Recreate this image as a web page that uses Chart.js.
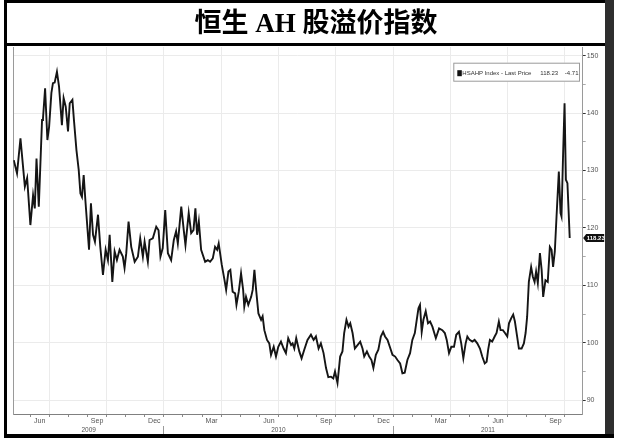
<!DOCTYPE html>
<html><head><meta charset="utf-8">
<script src="https://cdn.jsdelivr.net/npm/chart.js@4"></script>
<style>
html,body{margin:0;padding:0;background:#fff;}
#wrap{position:relative;width:617px;height:441px;overflow:hidden;background:#fff;}
#c{position:absolute;left:0;top:0;}
.bar{position:absolute;background:#000;}
#title{position:absolute;left:7px;top:3px;width:598px;height:40px;line-height:40px;text-align:center;font-family:"Liberation Serif","Noto Sans CJK SC",serif;font-weight:bold;font-size:27px;color:#000;white-space:nowrap;padding-left:20px;box-sizing:border-box;}
</style></head><body>
<div id="wrap">
<canvas id="c" width="617" height="441"></canvas>
<div id="title">恒生 AH 股溢价指数</div>
<div class="bar" style="left:4px;top:0;width:610px;height:3px"></div>
<div class="bar" style="left:4px;top:0;width:3px;height:438px"></div>
<div class="bar" style="left:4px;top:43px;width:610px;height:3px"></div>
<div class="bar" style="left:605px;top:0;width:9px;height:438px;background:#2e2e2e"></div>
<div class="bar" style="left:4px;top:434px;width:610px;height:4px"></div>
</div>
<script>
// time position: months elapsed since 1 Jan 2009
const monthsFromJan2009 = [4.14,4.31,4.49,4.72,4.84,5.01,5.15,5.24,5.33,5.45,5.62,5.67,5.78,5.90,5.99,6.11,6.19,6.28,6.40,6.51,6.66,6.75,6.86,6.98,7.07,7.21,7.29,7.42,7.54,7.63,7.71,7.80,7.90,8.08,8.18,8.29,8.39,8.55,8.67,8.81,8.95,9.07,9.16,9.30,9.42,9.54,9.68,9.85,9.94,10.03,10.15,10.29,10.47,10.64,10.76,10.90,
10.99,11.16,11.25,11.42,11.60,11.72,11.82,11.94,12.07,12.21,12.38,12.52,12.64,12.73,12.91,13.04,13.13,13.30,13.43,13.55,13.65,13.74,13.83,13.95,14.16,14.30,14.42,14.56,14.68,14.79,14.87,15.03,15.17,15.26,15.38,15.48,15.60,15.73,15.80,15.92,16.04,16.15,16.21,16.30,16.42,16.57,16.65,16.74,16.83,16.95,17.09,17.17,17.26,17.40,17.52,17.61,17.75,17.87,17.99,18.13,18.27,18.39,18.51,
18.66,18.74,18.83,18.93,19.09,19.21,19.35,19.52,19.70,19.84,19.96,20.10,20.22,20.36,20.49,20.61,20.75,20.87,20.96,21.09,21.23,21.35,21.44,21.56,21.67,21.76,21.88,22.00,22.14,22.28,22.40,22.49,22.63,22.75,22.87,22.97,23.10,23.23,23.36,23.48,23.58,23.71,23.83,23.97,24.11,24.23,24.37,24.49,24.61,24.75,24.89,25.01,25.14,25.24,25.33,25.41,25.50,25.59,25.71,
25.83,25.94,26.06,26.24,26.41,26.58,26.71,26.81,26.93,27.05,27.19,27.31,27.45,27.57,27.68,27.80,27.89,28.01,28.15,28.27,28.41,28.55,28.67,28.80,28.90,28.98,29.07,29.19,29.32,29.42,29.54,29.63,29.75,29.86,29.98,30.07,30.19,30.29,30.38,30.47,30.59,30.73,30.85,30.94,31.02,31.11,31.23,31.32,31.41,31.49,31.58,31.69,31.78,31.86,31.98,32.10,32.21,32.30,32.38,32.47,32.56,32.68,32.77,32.82,32.90,32.98,33.05,33.13,33.19,33.25];

const hsahpIndex = [131.8,129.5,135.6,127.2,128.7,120.5,125.7,123.4,132.1,123.7,138.8,139.1,144.3,135.3,137.6,143.5,145.2,145.3,147.2,144.6,137.9,142.6,141.1,136.8,141.7,142.3,138.8,133.6,130.1,126.0,125.4,129.2,124.3,116.2,124.3,118.8,117.6,122.3,116.7,111.8,116.2,114.4,118.8,110.6,115.9,114.4,116.2,115.0,113.0,115.6,121.1,116.7,114.1,115.0,118.2,115.0,
117.6,114.1,117.9,118.2,120.2,119.6,115.0,116.5,123.1,115.6,114.4,117.9,119.4,117.3,123.7,119.6,117.0,122.6,119.1,119.6,123.4,118.8,121.1,116.2,114.1,114.4,114.1,114.7,116.7,116.2,117.3,113.6,111.0,109.2,112.4,112.7,108.9,108.6,106.6,108.9,112.1,109.2,106.3,108.0,106.6,108.0,109.2,112.7,109.2,105.1,104.0,104.6,102.2,100.5,99.9,97.9,99.3,97.6,99.3,100.2,99.0,98.2,100.8,
99.6,99.9,99.0,100.8,98.5,97.3,98.8,100.5,101.4,100.5,101.1,99.0,99.9,98.2,95.6,94.0,94.1,93.8,95.0,93.0,97.6,98.5,101.7,104.0,102.8,103.4,101.7,99.0,99.6,100.2,99.0,97.6,98.5,97.6,97.0,95.6,97.9,98.8,101.1,101.9,101.1,100.5,99.3,97.9,97.6,97.0,96.4,94.7,94.8,97.0,98.2,100.5,101.7,104.0,106.0,106.6,101.9,104.0,105.5,
103.4,103.7,102.8,100.8,102.5,102.2,101.7,100.5,98.2,99.3,99.3,101.4,101.9,99.9,97.3,99.9,101.1,100.5,100.2,100.5,99.9,99.0,97.6,96.4,96.7,98.8,100.5,100.2,101.1,101.7,103.7,102.2,102.2,101.7,101.1,103.4,104.3,104.9,103.7,101.7,99.0,99.0,99.9,101.7,104.5,110.6,113.2,111.5,110.6,112.4,110.4,115.6,112.7,108.0,110.9,110.6,116.7,116.2,113.2,115.9,122.0,129.8,122.6,122.0,132.4,141.7,128.4,127.8,123.1,118.23];

const seriesLabel = 'HSAHP Index - Last Price';
const lastPrice = '118.23';
const netChange = '-4.71';

const monthTickValues = [5.5,8.5,11.5,14.5,17.5,20.5,23.5,26.5,29.5,32.5];
const monthTickLabels = ['Jun','Sep','Dec','Mar','Jun','Sep','Dec','Mar','Jun','Sep'];
const monthStarts = [5,6,7,8,9,10,11,12,13,14,15,16,17,18,19,20,21,22,23,24,25,26,27,28,29,30,31,32,33];
const yearTickValues = [8.06,18,28.97];
const yearTickLabels = ['2009','2010','2011'];
const yearBreaks = [12,24];
const yTickValues = [90,95,100,105,110,115,120,125,130,135,140,145,150];

const X_MIN = 4.115, X_MAX = 33.93, Y_MIN = 87.6, Y_MAX = 151.5;
const FONT = "'Liberation Sans', Arial, sans-serif";

const points = monthsFromJan2009.map((m, i) => ({x: m, y: hsahpIndex[i]}));

const overlay = {
  id: 'overlay',
  afterDraw(chart) {
    const ctx = chart.ctx, a = chart.chartArea, ys = chart.scales.y;
    ctx.save();
    const bx = a.right - 129.4, by = a.top + 15.7, bw = 126.7, bh = 19;
    ctx.fillStyle = '#fff';
    ctx.fillRect(bx, by, bw, bh);
    ctx.strokeStyle = '#9a9a9a';
    ctx.lineWidth = 1;
    ctx.strokeRect(bx + 0.5, by + 0.5, bw - 1, bh - 1);
    ctx.fillStyle = '#111';
    ctx.fillRect(bx + 4, by + 7.5, 4.5, 6);
    ctx.fillStyle = '#333';
    ctx.font = '6px ' + FONT;
    ctx.textBaseline = 'middle';
    ctx.textAlign = 'left';
    const ty = by + 10.8;
    ctx.fillText(chart.data.datasets[0].label, bx + 9, ty);
    ctx.fillText(lastPrice, bx + 87, ty);
    ctx.fillText(netChange, bx + 111.5, ty);
    const ds = chart.data.datasets[0].data;
    const py = ys.getPixelForValue(ds[ds.length - 1].y);
    const x0 = a.right + 0.5, x1 = a.right + 21.5;
    ctx.fillStyle = '#111';
    ctx.beginPath();
    ctx.moveTo(x0, py);
    ctx.lineTo(x0 + 3, py - 4);
    ctx.lineTo(x1, py - 4);
    ctx.lineTo(x1, py + 4);
    ctx.lineTo(x0 + 3, py + 4);
    ctx.closePath();
    ctx.fill();
    ctx.fillStyle = '#fff';
    ctx.font = 'bold 6px ' + FONT;
    ctx.fillText(lastPrice, x0 + 3.5, py + 0.5);
    ctx.restore();
  }
};

new Chart(document.getElementById('c'), {
  type: 'line',
  data: {
    datasets: [{
      label: seriesLabel,
      data: points,
      borderColor: '#151515',
      borderWidth: 1.9,
      pointRadius: 0,
      tension: 0,
      fill: false
    }]
  },
  options: {
    responsive: false,
    animation: false,
    devicePixelRatio: 1,
    layout: {padding: {left: 13.3, top: 47, right: 12.3, bottom: 3}},
    plugins: {legend: {display: false}, tooltip: {enabled: false}},
    scales: {
      x: {
        type: 'linear', position: 'bottom', weight: 0, min: X_MIN, max: X_MAX,
        afterBuildTicks: s => { s.ticks = monthStarts.map(v => ({value: v})); },
        afterFit: s => { s.height = 3; },
        ticks: {display: false},
        grid: {
          display: true, drawOnChartArea: true, drawTicks: true, tickLength: 3,
          color: c => (c.tick && c.tick.value % 3 === 0) ? '#ebebeb' : 'rgba(0,0,0,0)',
          tickColor: '#8a8a8a', lineWidth: 1
        },
        border: {display: true, color: '#808080', width: 1}
      },
      xMonths: {
        type: 'linear', position: 'bottom', weight: 1, min: X_MIN, max: X_MAX,
        afterBuildTicks: s => { s.ticks = monthTickValues.map(v => ({value: v})); },
        afterFit: s => { s.height = 9; },
        ticks: {
          autoSkip: false, maxRotation: 0, padding: 0,
          font: {family: FONT, size: 7}, color: '#555',
          callback: v => monthTickLabels[monthTickValues.indexOf(v)]
        },
        grid: {display: false, drawTicks: false},
        border: {display: false}
      },
      xYears: {
        type: 'linear', position: 'bottom', weight: 2, min: X_MIN, max: X_MAX,
        afterBuildTicks: s => { s.ticks = yearTickValues.concat(yearBreaks).sort((p, q) => p - q).map(v => ({value: v})); },
        afterFit: s => { s.height = 12; },
        ticks: {
          autoSkip: false, maxRotation: 0, padding: -8,
          font: {family: FONT, size: 6.5}, color: '#555',
          callback: v => { const i = yearTickValues.indexOf(v); return i >= 0 ? yearTickLabels[i] : ''; }
        },
        grid: {
          display: true, drawOnChartArea: false, drawTicks: true, tickLength: 8,
          color: 'rgba(0,0,0,0)',
          tickColor: c => (c.tick && yearBreaks.includes(c.tick.value)) ? '#9a9a9a' : 'rgba(0,0,0,0)'
        },
        border: {display: false}
      },
      yLeft: {
        type: 'linear', position: 'left', min: Y_MIN, max: Y_MAX,
        afterFit: s => { s.width = 0; },
        ticks: {display: false},
        grid: {display: false, drawTicks: false},
        border: {display: true, color: '#9a9a9a', width: 1}
      },
      y: {
        type: 'linear', position: 'right', min: Y_MIN, max: Y_MAX,
        afterBuildTicks: s => { s.ticks = yTickValues.map(v => ({value: v})); },
        afterFit: s => { s.width = 22; },
        ticks: {
          padding: 1, font: {family: FONT, size: 7}, color: '#555',
          callback: v => (v % 10 === 0 ? String(v) : '')
        },
        grid: {
          display: true, drawOnChartArea: true, drawTicks: true, tickLength: 3,
          color: c => (c.tick && c.tick.value % 10 === 0) ? '#ebebeb' : 'rgba(0,0,0,0)',
          tickColor: c => (c.tick && c.tick.value % 10 === 0) ? '#333' : '#aaa'
        },
        border: {display: true, color: '#9a9a9a', width: 1}
      }
    }
  },
  plugins: [overlay]
});
</script>
</body></html>
